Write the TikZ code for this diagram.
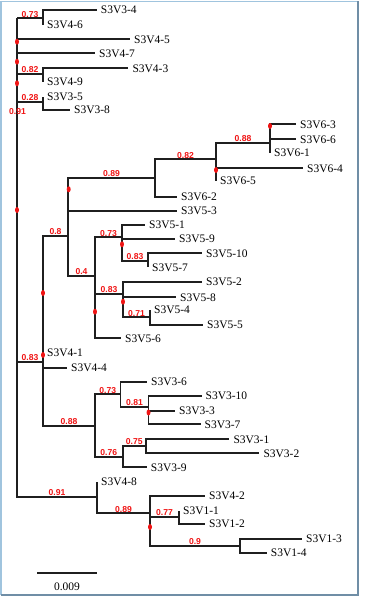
\documentclass[tikz,border=0pt]{standalone}
\usepackage{fontspec}
\setmainfont{Liberation Serif}
\newfontfamily\suppfont{Liberation Sans}
\usetikzlibrary{shapes.geometric}
\definecolor{frlight}{RGB}{160,196,222}
\definecolor{frdark}{RGB}{112,142,166}
\definecolor{suppred}{RGB}{240,20,20}
\begin{document}
\begin{tikzpicture}[x=1pt,y=-1pt,
  br/.style={line width=1.65pt, draw=black!88},
  leaf/.style={anchor=west, inner xsep=4pt, inner ysep=0pt, font=\fontsize{11.5}{12}\selectfont},
  supp/.style={anchor=south, inner sep=0.9pt, text=suppred, font=\suppfont\bfseries\fontsize{8.6}{9}\selectfont},
  rdot/.style={ellipse, fill=suppred, draw=none, minimum width=4pt, minimum height=6pt, inner sep=0pt}]
\useasboundingbox (0,0) rectangle (378,599);
% frame
\draw[frlight, line width=1.8pt] (1,595) -- (1,1.5) -- (358,1.5);
\draw[frdark, line width=1.4pt] (358,1.5) -- (358,595) -- (1,595);
% internal nodes
\coordinate (R) at (17,18.3);
\coordinate (A73) at (43,18.3);
\coordinate (A82) at (43,74);
\coordinate (A28) at (43,101.7);
\coordinate (B83) at (43,361.7);
\coordinate (C8) at (68,236);
\coordinate (D89) at (155,177.7);
\coordinate (E82) at (216,159.3);
\coordinate (F88) at (270,142.7);
\coordinate (D4) at (95,276);
\coordinate (E73) at (122,237.3);
\coordinate (E83) at (148,260.7);
\coordinate (G83) at (123,294);
\coordinate (G71) at (150,317.3);
\coordinate (C88) at (95,425.7);
\coordinate (H73) at (120.5,394.3);
\coordinate (H81) at (148.5,406.7);
\coordinate (H76) at (122.7,456.7);
\coordinate (H75) at (146,446);
\coordinate (B91) at (97,497);
\coordinate (B89) at (150,513.3);
\coordinate (B77) at (179,517);
\coordinate (B9) at (240,546);
% leaves
\node[leaf] (l334) at (96.7,10) {S3V3-4};
\node[leaf] (l346) at (43,25) {S3V4-6};
\node[leaf] (l345) at (130,39.3) {S3V4-5};
\node[leaf] (l347) at (95,53.3) {S3V4-7};
\node[leaf] (l343) at (128.3,68.3) {S3V4-3};
\node[leaf] (l349) at (43,81.7) {S3V4-9};
\node[leaf] (l335) at (43,96.7) {S3V3-5};
\node[leaf] (l338) at (70,110) {S3V3-8};
\node[leaf] (l663) at (296,124.3) {S3V6-3};
\node[leaf] (l666) at (296,139.3) {S3V6-6};
\node[leaf] (l661) at (270,153) {S3V6-1};
\node[leaf] (l664) at (303,168.3) {S3V6-4};
\node[leaf] (l665) at (216,181) {S3V6-5};
\node[leaf] (l662) at (177,196.7) {S3V6-2};
\node[leaf] (l553) at (177,210.7) {S3V5-3};
\node[leaf] (l551) at (145,225) {S3V5-1};
\node[leaf] (l559) at (175,239) {S3V5-9};
\node[leaf] (l5510) at (202,253.3) {S3V5-10};
\node[leaf] (l557) at (148,267.3) {S3V5-7};
\node[leaf] (l552) at (202,281.7) {S3V5-2};
\node[leaf] (l558) at (176,297.3) {S3V5-8};
\node[leaf] (l554) at (150,310) {S3V5-4};
\node[leaf] (l555) at (203,325) {S3V5-5};
\node[leaf] (l556) at (121,338.3) {S3V5-6};
\node[leaf] (l441) at (43,353) {S3V4-1};
\node[leaf] (l444) at (67,367.7) {S3V4-4};
\node[leaf] (l336) at (147,381.7) {S3V3-6};
\node[leaf] (l3310) at (201.5,396) {S3V3-10};
\node[leaf] (l333) at (175,411) {S3V3-3};
\node[leaf] (l337) at (200.5,424.3) {S3V3-7};
\node[leaf] (l331) at (229.3,439.3) {S3V3-1};
\node[leaf] (l332) at (259.3,453.3) {S3V3-2};
\node[leaf] (l339) at (146.7,467.3) {S3V3-9};
\node[leaf] (l448) at (97,482) {S3V4-8};
\node[leaf] (l442) at (205,496) {S3V4-2};
\node[leaf] (l111) at (179,510.5) {S3V1-1};
\node[leaf] (l112) at (205,524) {S3V1-2};
\node[leaf] (l113) at (302,539) {S3V1-3};
\node[leaf] (l114) at (266.7,553) {S3V1-4};
% internal branches
\foreach \p/\c in {R/A73,R/A82,R/A28,R/B83,R/B91,B83/C8,C8/D89,D89/E82,E82/F88,C8/D4,D4/E73,E73/E83,D4/G83,G83/G71,B83/C88,C88/H73,H73/H81,C88/H76,H76/H75,B91/B89,B89/B77,B89/B9}
  \draw[br] (\p) |- (\c);
% leaf branches
\foreach \p/\c in {A73/l334,A73/l346,R/l345,R/l347,A82/l343,A82/l349,A28/l335,A28/l338,F88/l663,F88/l666,F88/l661,E82/l664,E82/l665,D89/l662,C8/l553,E73/l551,E73/l559,E83/l5510,E83/l557,G83/l552,G83/l558,G71/l554,G71/l555,D4/l556,B83/l441,B83/l444,H73/l336,H81/l3310,H81/l333,H81/l337,H75/l331,H75/l332,H76/l339,B91/l448,B89/l442,B77/l111,B77/l112,B9/l113,B9/l114}
  \draw[br] (\p) |- (\c.west);
% red node markers
\foreach \n/\x/\y in {d1/17/41.7,d2/17/61.7,d3/17/83.3,d4/17/210,d5/68.7/189.3,d6/43/293,d7/43/355,d8/95/311.7,d9/122/244.3,d10/123/301.7,d11/216/170,d12/270/126,d13/148.5/412.5,d14/150/527}
  \node[rdot] (\n) at (\x,\y) {};
% support values
\node[supp] (s1) at (30,18.3) {0.73};
\node[supp] (s2) at (30,74) {0.82};
\node[supp] (s3) at (30,101.7) {0.28};
\node[supp, anchor=center] (s4) at (17.5,112) {0.91};
\node[supp] (s5) at (55.5,236) {0.8};
\node[supp] (s6) at (111.5,177.7) {0.89};
\node[supp] (s7) at (185.5,159.3) {0.82};
\node[supp] (s8) at (243,142.7) {0.88};
\node[supp] (s9) at (81.5,276) {0.4};
\node[supp] (s10) at (108.5,237.3) {0.73};
\node[supp] (s11) at (135,260.7) {0.83};
\node[supp] (s12) at (109,294) {0.83};
\node[supp] (s13) at (136.5,317.3) {0.71};
\node[supp] (s14) at (30,361.7) {0.83};
\node[supp] (s15) at (69,425.7) {0.88};
\node[supp] (s16) at (107.7,394.3) {0.73};
\node[supp] (s17) at (134.5,406.7) {0.81};
\node[supp] (s18) at (108.8,456.7) {0.76};
\node[supp] (s19) at (134.3,446) {0.75};
\node[supp] (s20) at (57,497) {0.91};
\node[supp] (s21) at (123.5,513.3) {0.89};
\node[supp] (s22) at (164.5,517) {0.77};
\node[supp] (s23) at (195,546) {0.9};
% scale bar
\coordinate (sb1) at (37,573);
\coordinate (sb2) at (97,573);
\draw[br] (sb1) -- (sb2);
\node[font=\fontsize{11.5}{12}\selectfont, inner sep=0pt] (sbl) at (67,587) {0.009};
\end{tikzpicture}
\end{document}
